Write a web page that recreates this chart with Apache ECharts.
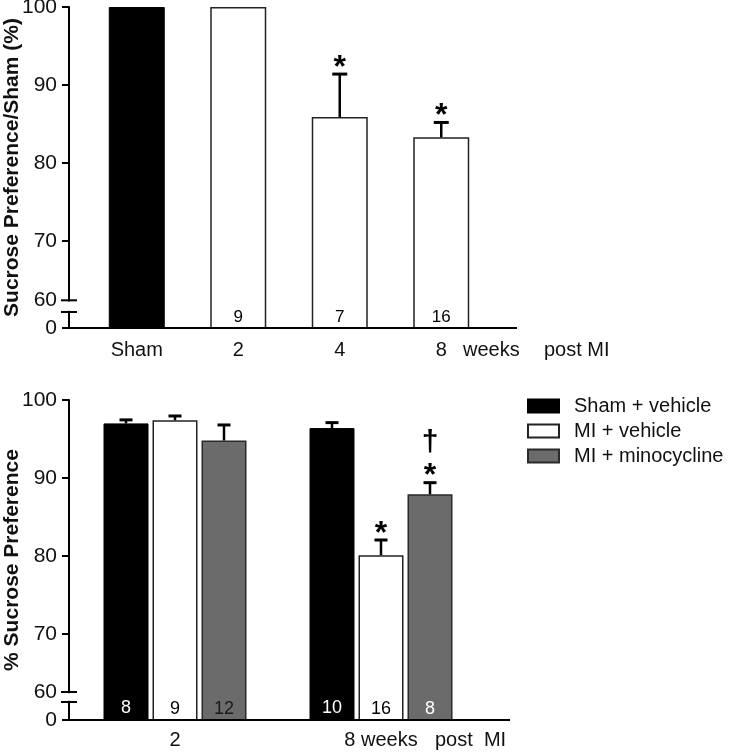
<!DOCTYPE html>
<html><head><meta charset="utf-8">
<script src="https://cdn.jsdelivr.net/npm/echarts@6/dist/echarts.min.js"></script>
<style>html,body{margin:0;padding:0;background:#fff}#c{width:733px;height:754px}</style>
</head><body><div id="c"></div>
<script>
// ---------------- data ----------------
const topCategories = ['Sham', '2', '4', '8'];
const topValues = [100, 100, 85.9, 83.3];
const topSem = [0, 0, 5.5, 1.9];
const topN = ['', '9', '7', '16'];
const topSig = ['', '', '*', '*'];

const bottomCategories = ['2', '8 weeks'];
const seriesNames = ['Sham + vehicle', 'MI + vehicle', 'MI + minocycline'];
const shamVehicle = [97.0, 96.4];
const miVehicle = [97.4, 80.1];
const miMinocycline = [94.8, 87.9];
const shamVehicleSem = [0.45, 0.7];
const miVehicleSem = [0.55, 1.95];
const miMinocyclineSem = [2.0, 1.5];
const shamVehicleN = ['8', '10'];
const miVehicleN = ['9', '16'];
const miMinocyclineN = ['12', '8'];
const shamVehicleSig = ['', ''];
const miVehicleSig = ['', '*'];
const miMinocyclineSig = ['', '*†'];

const yTickValues = [60, 70, 80, 90, 100];
const xTrailTop = ['weeks', 'post MI'];
const xTrailBottom = 'post  MI';

// ---------------- layout / style ----------------
const FONT = '"Liberation Sans", Arial, sans-serif';
const AXIS_X = 69;
// broken axis: the bottom of each panel stands for 0, the "60" tick sits just above the break
const panels = [
  { gridLeft: 86, top: 7, width: 406, height: 321, min: 58.85, at60: 62.4, breakAt: 60.9, xEnd: 517 },
  { gridLeft: 72, top: 400, width: 412, height: 320, min: 58.97, at60: 62.56, breakAt: 61.28, xEnd: 510 }
];
const BAR_W_BOTTOM = 45, BAR_GAP_PX = 4;
const styles = [
  { color: '#000', borderColor: '#000', borderWidth: 1 },
  { color: '#fff', borderColor: '#222', borderWidth: 1.5 },
  { color: '#6b6b6b', borderColor: '#2a2a2a', borderWidth: 1.5 }
];
const nLabelColors = [['#fff', '#fff'], ['#000', '#000'], ['#1a1a1a', '#fff']];

function yAxisFor(i, name) {
  const p = panels[i];
  const labelVals = [p.min, p.at60, 70, 80, 90, 100];
  return {
    gridIndex: i, type: 'value', min: p.min, max: 100, offset: p.gridLeft - AXIS_X,
    axisLine: { show: true, lineStyle: { color: '#000', width: 2 } },
    axisTick: { show: true, length: 7, lineStyle: { color: '#000', width: 2 }, customValues: [p.min, 70, 80, 90, 100] },
    axisLabel: {
      customValues: labelVals, fontSize: 21, color: '#111', margin: 12, fontFamily: FONT,
      formatter: v => {
        if (Math.abs(v - p.min) < 1e-6) return '0';
        if (Math.abs(v - p.at60) < 1e-6) return String(yTickValues[0]);
        return String(Math.round(v));
      }
    },
    splitLine: { show: false },
    name, nameLocation: 'middle', nameRotate: 90, nameGap: 46, nameMoveOverlap: false,
    nameTextStyle: { fontSize: 21, fontWeight: 'bold', color: '#111', fontFamily: FONT }
  };
}
function xAxisFor(i, data) {
  return {
    gridIndex: i, type: 'category', data,
    axisLine: { show: false }, axisTick: { show: false },
    axisLabel: { fontSize: 20, color: '#111', margin: i === 0 ? 12 : 10, fontFamily: FONT, interval: 0 }
  };
}
function errorSeries(xi, means, sems, sigs, offsetPx, capW) {
  return {
    type: 'custom', xAxisIndex: xi, yAxisIndex: xi, z: 5, silent: true,
    data: means.map((m, i) => [i, m, sems[i]]),
    renderItem: (params, api) => {
      const i = api.value(0), m = api.value(1), s = api.value(2);
      const p0 = api.coord([i, m]);
      const p1 = api.coord([i, m + s]);
      const x = p0[0] + offsetPx;
      const ch = [];
      const ls = { stroke: '#000', lineWidth: 2.5 };
      if (s > 0) {
        ch.push({ type: 'line', shape: { x1: x, y1: p0[1], x2: x, y2: p1[1] }, style: ls });
        ch.push({ type: 'line', shape: { x1: x - capW / 2, y1: p1[1], x2: x + capW / 2, y2: p1[1] }, style: { stroke: '#000', lineWidth: 3 } });
      }
      const sig = sigs[i] || '';
      if (sig.indexOf('*') >= 0) {
        ch.push({ type: 'text', style: { x: x, y: p1[1] - 6, text: '*', font: 'bold 32px ' + FONT, fill: '#000', align: 'center', verticalAlign: 'middle' } });
      }
      if (sig.indexOf('†') >= 0) {
        ch.push({ type: 'text', style: { x: x, y: p1[1] - 40, text: '†', font: 'bold 30px ' + FONT, fill: '#000', align: 'center', verticalAlign: 'middle' } });
      }
      return { type: 'group', children: ch };
    }
  };
}

const chart = echarts.init(document.getElementById('c'), null, { renderer: 'canvas' });
const bottomVals = [shamVehicle, miVehicle, miMinocycline];
const bottomSems = [shamVehicleSem, miVehicleSem, miMinocyclineSem];
const bottomNs = [shamVehicleN, miVehicleN, miMinocyclineN];
const bottomSigs = [shamVehicleSig, miVehicleSig, miMinocyclineSig];

const series = [
  {
    type: 'bar', name: 'top', xAxisIndex: 0, yAxisIndex: 0, barWidth: 56,
    data: topValues.map((v, i) => ({ value: v, itemStyle: i === 0 ? styles[0] : styles[1] })),
    label: { show: true, position: 'insideBottom', distance: 3, formatter: p => topN[p.dataIndex], fontSize: 17, color: '#000', fontFamily: FONT }
  },
  errorSeries(0, topValues, topSem, topSig, 0, 15)
];
seriesNames.forEach((name, k) => {
  series.push({
    type: 'bar', name, xAxisIndex: 1, yAxisIndex: 1, barWidth: BAR_W_BOTTOM, barGap: (BAR_GAP_PX / BAR_W_BOTTOM * 100) + '%',
    itemStyle: styles[k],
    data: bottomVals[k].map((v, i) => ({ value: v, label: { color: nLabelColors[k][i] } })),
    label: { show: true, position: 'insideBottom', distance: 3, formatter: p => bottomNs[k][p.dataIndex], fontSize: 18, fontFamily: FONT }
  });
});
seriesNames.forEach((name, k) => {
  series.push(errorSeries(1, bottomVals[k], bottomSems[k], bottomSigs[k], (k - 1) * (BAR_W_BOTTOM + BAR_GAP_PX), 13));
});

chart.setOption({
  animation: false,
  backgroundColor: '#fff',
  textStyle: { fontFamily: FONT },
  grid: panels.map(p => ({ left: p.gridLeft, top: p.top, width: p.width, height: p.height, containLabel: false, outerBoundsMode: 'none' })),
  xAxis: [xAxisFor(0, topCategories), xAxisFor(1, bottomCategories)],
  yAxis: [yAxisFor(0, 'Sucrose Preference/Sham (%)'), yAxisFor(1, '% Sucrose Preference')],
  legend: {
    data: seriesNames, orient: 'vertical', left: 522, top: 391, itemWidth: 31, itemHeight: 13, itemGap: 5,
    icon: 'rect', selectedMode: false,
    textStyle: { fontSize: 20, color: '#111', fontFamily: FONT, padding: [0, 0, 0, 10] }
  },
  series
});

// axis decorations: x-axis lines, break marks, trailing axis text
const g = [];
panels.forEach((p, i) => {
  const yMin = chart.convertToPixel({ yAxisIndex: i }, p.min);
  const y60 = chart.convertToPixel({ yAxisIndex: i }, p.at60);
  const yBr = chart.convertToPixel({ yAxisIndex: i }, p.breakAt);
  g.push({ type: 'line', z: 100, shape: { x1: AXIS_X - 1, y1: yMin, x2: p.xEnd, y2: yMin }, style: { stroke: '#000', lineWidth: 2 } });
  g.push({ type: 'rect', z: 100, shape: { x: AXIS_X - 3, y: y60 + 1.2, width: 6, height: yBr - y60 - 2.4 }, style: { fill: '#fff' } });
  g.push({ type: 'line', z: 101, shape: { x1: AXIS_X - 8, y1: y60, x2: AXIS_X + 8, y2: y60 }, style: { stroke: '#000', lineWidth: 2 } });
  g.push({ type: 'line', z: 101, shape: { x1: AXIS_X - 8, y1: yBr, x2: AXIS_X + 8, y2: yBr }, style: { stroke: '#000', lineWidth: 2 } });
});
g.push({ type: 'text', z: 100, x: 463, y: 350, style: { text: xTrailTop[0], font: '20px ' + FONT, fill: '#111', verticalAlign: 'middle' } });
g.push({ type: 'text', z: 100, x: 544, y: 350, style: { text: xTrailTop[1], font: '20px ' + FONT, fill: '#111', verticalAlign: 'middle' } });
g.push({ type: 'text', z: 100, x: 435, y: 740, style: { text: xTrailBottom, font: '20px ' + FONT, fill: '#111', verticalAlign: 'middle' } });
chart.setOption({ graphic: { elements: g } });
</script></body></html>
